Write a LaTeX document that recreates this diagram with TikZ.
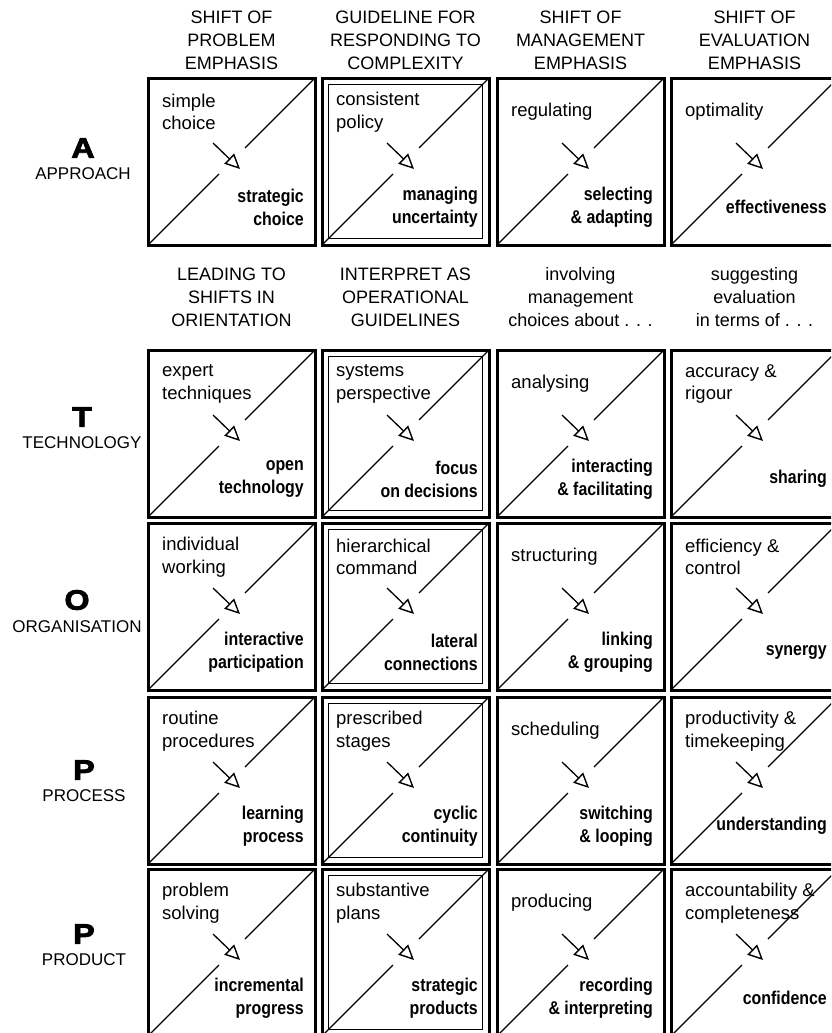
\documentclass[tikz,border=0pt]{standalone}
\usepackage{fontspec}
\setmainfont{Liberation Sans}
\newfontfamily\condbold[FakeStretch=0.86]{Liberation Sans Bold}
\newfontfamily\heavyfont[FakeStretch=1.15,FakeBold=3]{Liberation Sans Bold}
\usepackage{tikz}
\usetikzlibrary{arrows.meta,positioning}

\tikzset{
  frame/.style={line width=3pt},
  innerframe/.style={line width=1.3pt},
  diag/.style={line width=1.1pt},
  shiftarrow/.style={line width=1.3pt,-{Triangle[open,length=15pt,width=14pt,line width=1.4pt]}},
  fromtext/.style={font=\fontsize{18.5}{22.5}\selectfont,align=left,anchor=west,inner sep=0pt},
  totext/.style={font=\condbold\fontsize{18.5}{23}\selectfont,align=right,anchor=east,inner sep=0pt},
  head/.style={font=\fontsize{18}{23}\selectfont,align=center,inner sep=0pt},
  rowletter/.style={font=\heavyfont\fontsize{28}{28}\selectfont,inner sep=0pt},
  rowword/.style={font=\fontsize{17}{17}\selectfont,inner sep=0pt,below=10pt of #1},
}

% one cell: name, left, top, from-text, to-text
\newcommand{\shiftcell}[5]{%
  \draw[frame] (#2,#3) rectangle (#2+167,#3+167);
  \draw[diag] (#2,#3+167)--(#2+71,#3+96);
  \draw[diag] (#2+97,#3+70)--(#2+167,#3);
  \coordinate (#1-tail) at (#2+65,#3+65);
  \coordinate (#1-tip) at (#2+92,#3+91);
  \draw[shiftarrow] (#1-tail)--(#1-tip);
  \node[fromtext] (#1-from) at (#2+14,#3+34) {#4};
  \node[totext] (#1-to) at (#2+156,#3+129) {#5};
}
\newcommand{\guideframe}[2]{%
  \draw[innerframe] (#1+6.5,#2+6.5) rectangle (#1+160.5,#2+160.5);
}

\begin{document}
\begin{tikzpicture}[x=1pt,y=-1pt]
\useasboundingbox (0,0) rectangle (831,1033);
\clip (0,0) rectangle (831,1033);

\node[head] (head1) at (231.5,40) {SHIFT OF\\PROBLEM\\EMPHASIS};
\node[head] (head2) at (405.5,40) {GUIDELINE FOR\\RESPONDING TO\\COMPLEXITY};
\node[head] (head3) at (580.5,40) {SHIFT OF\\MANAGEMENT\\EMPHASIS};
\node[head] (head4) at (754.5,40) {SHIFT OF\\EVALUATION\\EMPHASIS};

\node[head] (lead1) at (231.5,297) {LEADING TO\\SHIFTS IN\\ORIENTATION};
\node[head] (lead2) at (405.5,297) {INTERPRET AS\\OPERATIONAL\\GUIDELINES};
\node[head] (lead3) at (580.5,297) {involving\\management\\choices about . . .};
\node[head] (lead4) at (754.5,297) {suggesting\\evaluation\\in terms of . . .};

\node[rowletter] (lA) at (83,148) {A};
\node[rowword=lA] (wA) {APPROACH};
\node[rowletter] (lT) at (82,417) {T};
\node[rowword=lT] (wT) {TECHNOLOGY};
\node[rowletter] (lO) at (77,600) {O};
\node[rowword=lO] (wO) {ORGANISATION};
\node[rowletter] (lP) at (84,770) {P};
\node[rowword=lP] (wP) {PROCESS};
\node[rowletter] (lQ) at (84,934) {P};
\node[rowword=lQ] (wQ) {PRODUCT};

% approach
\shiftcell{a1}{148}{78}{simple\\choice}{strategic\\choice}
\shiftcell{a2}{322}{78}{consistent\\policy}{managing\\uncertainty}
\guideframe{322}{78}
\shiftcell{a3}{497}{78}{regulating}{selecting\\\& adapting}
\shiftcell{a4}{671}{78}{optimality}{effectiveness}

% technology
\shiftcell{t1}{148}{350}{expert\\techniques}{open\\technology}
\shiftcell{t2}{322}{350}{systems\\perspective}{focus\\on decisions}
\guideframe{322}{350}
\shiftcell{t3}{497}{350}{analysing}{interacting\\\& facilitating}
\shiftcell{t4}{671}{350}{accuracy \&\\rigour}{sharing}

% organisation
\shiftcell{o1}{148}{523}{individual\\working}{interactive\\participation}
\shiftcell{o2}{322}{523}{hierarchical\\command}{lateral\\connections}
\guideframe{322}{523}
\shiftcell{o3}{497}{523}{structuring}{linking\\\& grouping}
\shiftcell{o4}{671}{523}{efficiency \&\\control}{synergy}

% process
\shiftcell{p1}{148}{697}{routine\\procedures}{learning\\process}
\shiftcell{p2}{322}{697}{prescribed\\stages}{cyclic\\continuity}
\guideframe{322}{697}
\shiftcell{p3}{497}{697}{scheduling}{switching\\\& looping}
\shiftcell{p4}{671}{697}{productivity \&\\timekeeping}{understanding}

% product
\shiftcell{q1}{148}{869}{problem\\solving}{incremental\\progress}
\shiftcell{q2}{322}{869}{substantive\\plans}{strategic\\products}
\guideframe{322}{869}
\shiftcell{q3}{497}{869}{producing}{recording\\\& interpreting}
\shiftcell{q4}{671}{869}{accountability \&\\completeness}{confidence}

\end{tikzpicture}
\end{document}
